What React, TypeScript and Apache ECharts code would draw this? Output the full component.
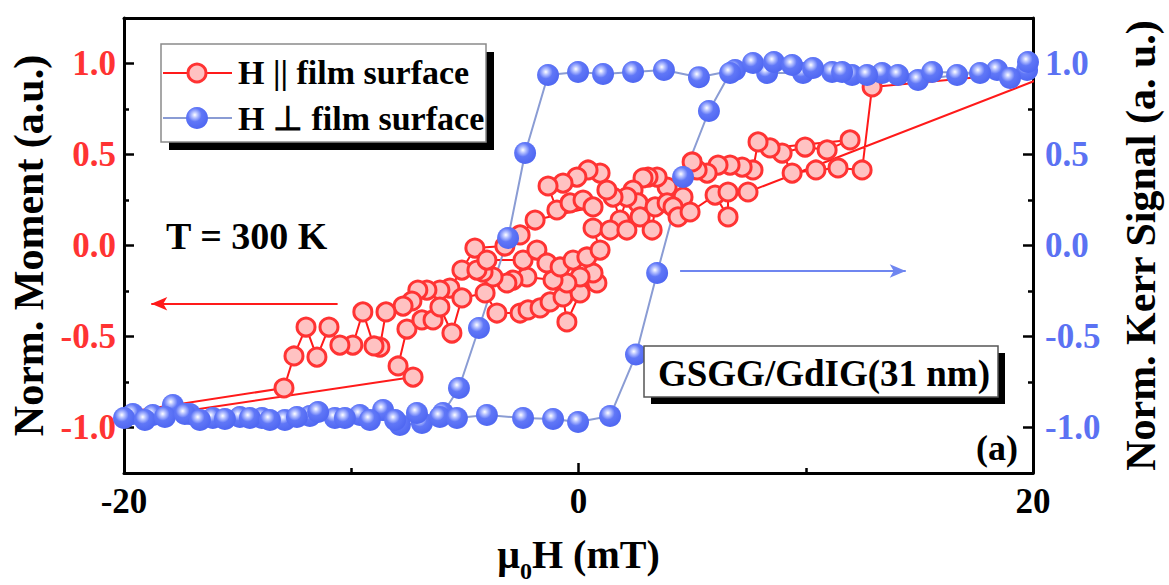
import React, { useEffect, useRef } from "react";
import * as echarts from "echarts";

const FONT = "'Liberation Serif', 'Times New Roman', serif";

// axis ticks
const xMin = -20;
const xMax = 20;
const xInterval = 20;
const yMin = -1.25;
const yMax = 1.25;
const yMajorTicks = [-1, -0.5, 0, 0.5, 1];
const yMinorTicks = [-0.75, -0.25, 0.25, 0.75];

// H parallel to film surface (VSM moment) : sweep down from +20 then back up from -20
const parallelDown: [number, number][] = [
  [20.6, 0.96], [12.92, 0.871], [12.48, 0.415], [11.42, 0.426], [10.45, 0.415], [9.4, 0.398],
  [8.96, 0.508], [9.97, 0.541], [10.94, 0.525], [11.95, 0.58], [8.43, 0.536], [7.9, 0.569],
  [7.68, 0.415], [7.2, 0.431], [6.67, 0.442], [6.14, 0.442], [5.66, 0.398], [5.22, 0.415],
  [5.0, 0.459], [4.6, 0.266], [3.9, 0.321], [3.46, 0.376], [3.06, 0.376], [2.84, 0.371],
  [2.4, 0.305], [2.62, 0.234], [2.13, 0.266], [1.83, 0.14], [1.52, 0.266], [1.25, 0.305],
  [0.95, 0.398], [0.42, 0.415], [-0.07, 0.376], [-0.68, 0.343], [-1.34, 0.327], [-0.95, 0.195],
  [-0.37, 0.234], [0.2, 0.25], [0.64, 0.212], [-1.91, 0.14], [-2.57, 0.058], [-3.24, -0.003],
  [-4.56, -0.014], [-5.13, -0.135], [-5.66, -0.234], [-6.1, -0.245], [-6.67, -0.245], [-7.07, -0.245],
  [-7.33, -0.305], [-7.72, -0.333], [-8.47, -0.365], [-8.74, -0.558], [-9.0, -0.552], [-9.49, -0.365],
  [-9.93, -0.547], [-10.5, -0.547], [-10.98, -0.448], [-11.51, -0.613], [-11.99, -0.448], [-12.52, -0.607],
  [-12.96, -0.783], [-20.6, -0.93],
];
const parallelUp: [number, number][] = [
  [-20.6, -0.97], [-7.28, -0.723], [-7.94, -0.662], [-7.55, -0.459], [-6.89, -0.409], [-6.4, -0.409],
  [-6.1, -0.338], [-5.57, -0.481], [-5.13, -0.288], [-4.11, -0.261], [-3.59, -0.371], [-2.57, -0.371],
  [-2.22, -0.354], [-1.69, -0.343], [-1.25, -0.31], [-0.68, -0.283], [-0.51, -0.42], [0.07, -0.261],
  [0.81, -0.206], [0.64, -0.151], [0.07, -0.173], [-0.51, -0.206], [-1.12, -0.19], [-2.27, -0.173],
  [-2.88, -0.19], [-3.15, -0.206], [-3.76, -0.173], [-4.2, -0.146], [-4.47, -0.135], [-4.03, -0.08],
  [-2.44, -0.08], [-1.83, -0.025], [-1.39, -0.096], [-0.81, -0.118], [-0.24, -0.08], [0.37, -0.063],
  [0.95, -0.025], [0.64, 0.096], [1.39, 0.085], [2.13, 0.085], [2.71, 0.157], [3.24, 0.085],
  [3.37, 0.212], [3.9, 0.234], [4.16, 0.212], [4.38, 0.157], [4.91, 0.184], [6.01, 0.277],
  [6.58, 0.157], [6.58, 0.294], [7.46, 0.294], [20.6, 0.93],
];

// H perpendicular to film surface (Kerr signal)
const perpDown: [number, number][] = [
  [19.74, 0.964], [18.42, 0.964], [16.66, 0.937], [14.94, 0.909], [13.36, 0.948], [12.04, 0.937],
  [11.16, 0.953], [9.88, 0.948], [8.3, 0.948], [6.89, 0.964], [5.3, 0.925], [3.76, 0.964],
  [2.4, 0.953], [1.08, 0.942], [-0.02, 0.953], [-1.34, 0.937], [-2.35, 0.508], [-3.1, 0.041],
  [-4.38, -0.453], [-5.26, -0.783], [-5.96, -0.92], [-6.89, -0.975], [-7.86, -0.986], [-8.6, -0.904],
  [-9.62, -0.931], [-10.72, -0.948], [-11.82, -0.937], [-12.92, -0.959], [-13.93, -0.948], [-14.9, -0.942],
  [-16.09, -0.948], [-17.1, -0.926], [-17.85, -0.876], [-18.73, -0.931], [-19.61, -0.926],
];
const perpUp: [number, number][] = [
  [-20.0, -0.948], [-19.08, -0.959], [-18.2, -0.942], [-17.32, -0.926], [-16.66, -0.959], [-15.56, -0.953],
  [-14.46, -0.948], [-13.58, -0.959], [-12.39, -0.942], [-11.46, -0.915], [-10.28, -0.948], [-9.18, -0.959],
  [-8.07, -0.959], [-7.11, -0.92], [-6.1, -0.942], [-5.35, -0.948], [-4.03, -0.931], [-2.44, -0.948],
  [-1.12, -0.953], [-0.02, -0.97], [1.39, -0.937], [2.53, -0.599], [3.46, -0.151], [4.6, 0.376],
  [5.74, 0.739], [6.67, 0.948], [7.68, 1.003], [8.6, 1.008], [9.4, 0.992], [10.32, 0.975],
  [11.6, 0.953], [12.7, 0.937], [14.06, 0.937], [15.56, 0.953], [17.67, 0.948], [18.99, 0.92], [19.78, 1.008],
];

// annotation arrows (data coordinates)
const momentArrow = { y: -0.32, from: -10.6, to: -18.8 };
const kerrArrow = { y: -0.14, from: 4.47, to: 14.4 };

const RED = "#ff3333";
const RED_LINE = "#ff1a1a";
const PINK = "#ffc2c2";
const BLUE_LINE = "#8a9cd4";
const BLUE_LABEL = "#5b72f3";

const sphere = {
  type: "radial",
  x: 0.4,
  y: 0.36,
  r: 0.62,
  colorStops: [
    { offset: 0, color: "#ffffff" },
    { offset: 0.22, color: "#b4c0ff" },
    { offset: 0.5, color: "#6077f7" },
    { offset: 1, color: "#5068f2" },
  ],
};

const bold = (size: number, color = "#000") => ({
  fontFamily: FONT,
  fontWeight: "bold",
  fontSize: size,
  color,
});

function boldText(size: number) {
  return { fontFamily: FONT, fontWeight: "bold", fontSize: size, fill: "#000" };
}

const majorTick = { show: true, inside: true, length: 10, lineStyle: { color: "#000", width: 2.5 } };
const axisLine = { show: true, onZero: false, lineStyle: { color: "#000", width: 3 } };

function yAxisMain(position: "left" | "right", labelColor: string, name: string, gap: number) {
  return {
    type: "value",
    position,
    min: yMin,
    max: yMax,
    axisLine,
    axisTick: { ...majorTick, customValues: yMajorTicks },
    axisLabel: {
      customValues: yMajorTicks,
      formatter: (v: number) => v.toFixed(1),
      margin: position === "left" ? 8 : 12,
      ...bold(35, labelColor),
    },
    splitLine: { show: false },
    name,
    nameLocation: "middle",
    nameRotate: 90,
    nameGap: gap,
    nameMoveOverlap: false,
    nameTextStyle: bold(42),
  };
}

function yAxisMinor(position: "left" | "right") {
  return {
    type: "value",
    position,
    min: yMin,
    max: yMax,
    axisLine: { show: false, onZero: false },
    axisTick: { show: true, inside: true, length: 5, customValues: yMinorTicks, lineStyle: { color: "#000", width: 2.5 } },
    axisLabel: { show: false },
    splitLine: { show: false },
  };
}

const option = {
  animation: false,
  backgroundColor: "#ffffff",
  grid: { left: 124, right: 136, top: 18, bottom: 112, containLabel: false, outerBoundsMode: "none" },
  xAxis: [
    {
      type: "value",
      position: "bottom",
      min: xMin,
      max: xMax,
      interval: xInterval,
      axisLine,
      axisTick: majorTick,
      minorTick: { show: true, splitNumber: 2, length: 5, lineStyle: { color: "#000", width: 2.5 } },
      axisLabel: { margin: 11, showMinLabel: true, showMaxLabel: true, ...bold(35) },
      splitLine: { show: false },
      minorSplitLine: { show: false },
      name: "{a|μ}{s|0}{a|H (mT)}",
      nameLocation: "middle",
      nameGap: 61,
      nameMoveOverlap: false,
      nameTextStyle: {
        ...bold(40),
        lineHeight: 54,
        rich: {
          a: { ...bold(40), lineHeight: 54, verticalAlign: "top" },
          s: { ...bold(24), lineHeight: 24, padding: [25, 0, 0, 0], verticalAlign: "top" },
        },
      },
    },
    {
      type: "value",
      position: "top",
      min: xMin,
      max: xMax,
      axisLine,
      axisTick: { show: false },
      axisLabel: { show: false },
      splitLine: { show: false },
    },
  ],
  yAxis: [
    yAxisMain("left", RED, "Norm. Moment (a.u.)", 74),
    yAxisMain("right", BLUE_LABEL, "Norm. Kerr Signal (a. u.)", 87),
    yAxisMinor("left"),
    yAxisMinor("right"),
  ],
  series: [
    {
      name: "H || film surface",
      type: "line",
      xAxisIndex: 0,
      yAxisIndex: 0,
      data: [...parallelDown, ...parallelUp],
      symbol: "circle",
      symbolSize: 18,
      showAllSymbol: true,
      clip: true,
      lineStyle: { color: RED_LINE, width: 2 },
      itemStyle: { color: PINK, borderColor: RED, borderWidth: 3 },
      emphasis: { disabled: true },
      markLine: {
        silent: true,
        symbol: ["none", "arrow"],
        symbolSize: [10, 16],
        label: { show: false },
        emphasis: { disabled: true },
        lineStyle: { color: RED_LINE, width: 2, type: "solid" },
        data: [[{ coord: [momentArrow.from, momentArrow.y] }, { coord: [momentArrow.to, momentArrow.y] }]],
      },
    },
    {
      name: "H ⊥ film surface",
      type: "line",
      xAxisIndex: 0,
      yAxisIndex: 1,
      data: [...perpDown, ...perpUp],
      symbol: "circle",
      symbolSize: 22,
      showAllSymbol: true,
      clip: true,
      lineStyle: { color: BLUE_LINE, width: 2 },
      itemStyle: { color: sphere, borderWidth: 0 },
      emphasis: { disabled: true },
      markLine: {
        silent: true,
        symbol: ["none", "arrow"],
        symbolSize: [10, 16],
        label: { show: false },
        emphasis: { disabled: true },
        lineStyle: { color: "#6f86f0", width: 2, type: "solid" },
        data: [[{ coord: [kerrArrow.from, kerrArrow.y] }, { coord: [kerrArrow.to, kerrArrow.y] }]],
      },
    },
  ],
  graphic: [
    // legend
    { type: "rect", z: 100, shape: { x: 169, y: 52, width: 325, height: 98 }, style: { fill: "#000" } },
    { type: "rect", z: 101, shape: { x: 161, y: 44, width: 325, height: 98 }, style: { fill: "#fff", stroke: "#8a8a8a", lineWidth: 1.5 } },
    { type: "line", z: 102, shape: { x1: 163, y1: 73, x2: 232, y2: 73 }, style: { stroke: RED_LINE, lineWidth: 2 } },
    { type: "circle", z: 103, shape: { cx: 197, cy: 73, r: 9 }, style: { fill: PINK, stroke: RED, lineWidth: 3 } },
    { type: "text", z: 103, x: 238, y: 72, style: { text: "H || film surface", ...boldText(34), verticalAlign: "middle" } },
    { type: "line", z: 102, shape: { x1: 163, y1: 118, x2: 232, y2: 118 }, style: { stroke: BLUE_LINE, lineWidth: 2 } },
    { type: "circle", z: 103, shape: { cx: 197, cy: 118, r: 11 }, style: { fill: sphere } },
    { type: "text", z: 103, x: 238, y: 118, style: { text: "H ⊥ film surface", ...boldText(34), verticalAlign: "middle" } },
    // sample label
    { type: "rect", z: 100, shape: { x: 651, y: 353, width: 354, height: 51 }, style: { fill: "#000" } },
    { type: "rect", z: 101, shape: { x: 644, y: 346, width: 354, height: 51 }, style: { fill: "#fff", stroke: "#555", lineWidth: 1.5 } },
    { type: "text", z: 102, x: 824, y: 373, style: { text: "GSGG/GdIG(31 nm)", ...boldText(37), align: "center", verticalAlign: "middle" } },
    // temperature and panel label
    { type: "text", z: 102, x: 166, y: 236, style: { text: "T = 300 K", ...boldText(38), verticalAlign: "middle" } },
    { type: "text", z: 102, x: 1018, y: 448, style: { text: "(a)", ...boldText(36), align: "right", verticalAlign: "middle" } },
  ],
};

export default function App() {
  const ref = useRef<HTMLDivElement>(null);
  useEffect(() => {
    if (!ref.current) return;
    const chart = echarts.init(ref.current, null, { renderer: "svg" });
    chart.setOption(option as any);
    return () => chart.dispose();
  }, []);
  return (
    <div
      ref={ref}
      style={{ position: "fixed", left: 0, top: 0, width: 1169, height: 585, background: "#fff" }}
    />
  );
}
